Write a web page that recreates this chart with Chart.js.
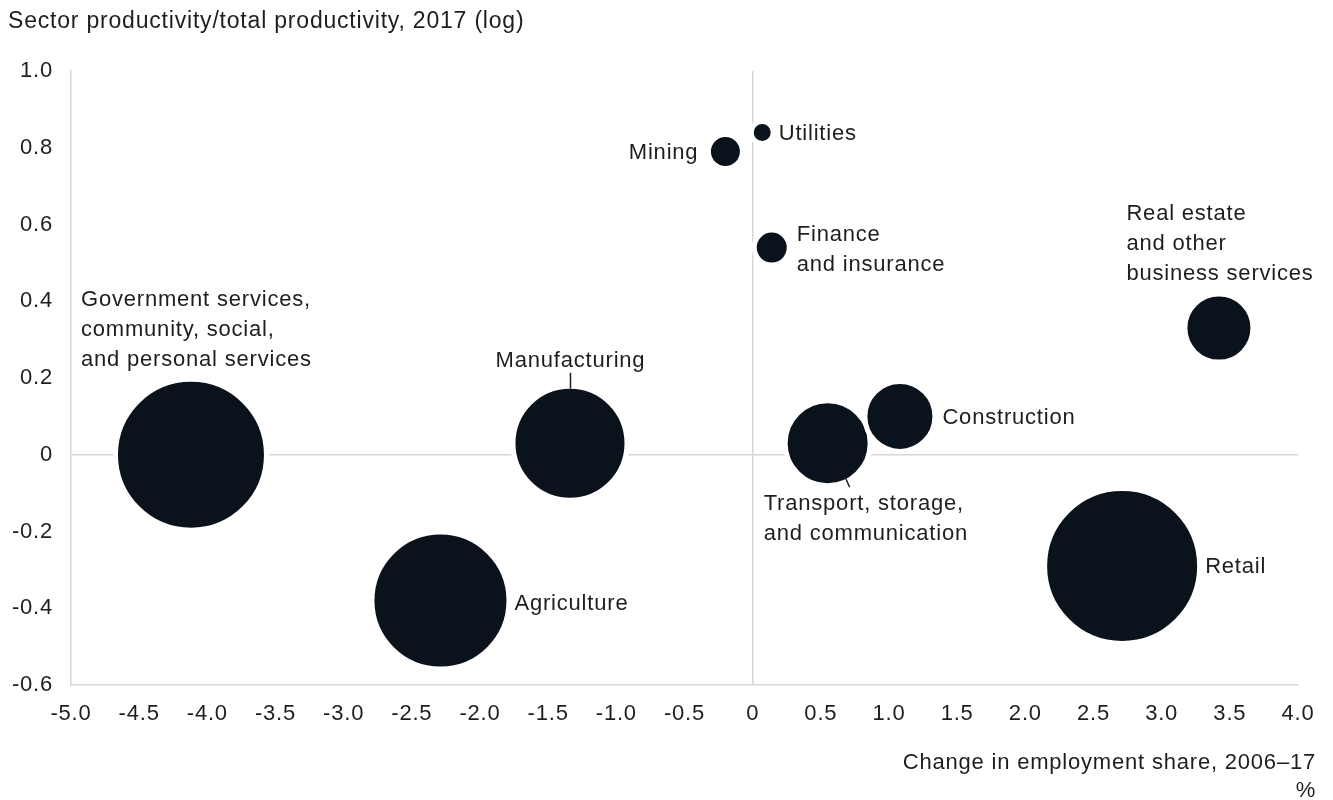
<!DOCTYPE html>
<html>
<head>
<meta charset="utf-8">
<script src="https://cdn.jsdelivr.net/npm/chart.js@4/dist/chart.umd.min.js"></script>
<style>
  html, body { margin: 0; padding: 0; background: #fff; }
  #wrap { width: 1333px; height: 800px; position: relative; }
</style>
</head>
<body>
<div id="wrap"><canvas id="chart" width="1333" height="800"></canvas></div>
<script>
// sectors, change in employment share (x), productivity ratio (y), bubble radius (px)
const sectors = [
  "Government services, community, social, and personal services",
  "Agriculture",
  "Manufacturing",
  "Mining",
  "Utilities",
  "Finance and insurance",
  "Transport, storage, and communication",
  "Construction",
  "Real estate and other business services",
  "Retail"
];
const employmentChange = [-4.12, -2.29, -1.34, -0.20, 0.07, 0.14, 0.55, 1.08, 3.42, 2.71];
const productivity = [0.00, -0.38, 0.03, 0.79, 0.84, 0.54, 0.03, 0.10, 0.33, -0.29];
const bubbleSize = [73, 66, 54.5, 14.5, 8.5, 15, 40, 32.5, 31.5, 75];

const xTicksMin = -5, xTicksMax = 4, xStep = 0.5;
const yTicksMin = -0.6, yTicksMax = 1.0, yStep = 0.2;

const FONT = "'Liberation Sans', Arial, sans-serif";
const TEXT = "#1e1e1e";
const INK = "#0a121b";
const RULE = "#d6d6d6";
const HALO = 5;

// label placement relative to each bubble centre
const labelLayout = [
  { lines: ["Government services,", "community, social,", "and personal services"], dx: -110, dy: -154.5, align: "left" },
  { lines: ["Agriculture"], dx: 74, dy: 3, align: "left" },
  { lines: ["Manufacturing"], dx: 0.5, dy: -82.5, align: "center", leader: [0.5, -70.5, 0.5, -54.5] },
  { lines: ["Mining"], dx: -27, dy: 1, align: "right" },
  { lines: ["Utilities"], dx: 16.5, dy: 1.5, align: "left" },
  { lines: ["Finance", "and insurance"], dx: 25, dy: -13, align: "left" },
  { lines: ["Transport, storage,", "and communication"], dx: -64, dy: 61, align: "left", leader: [18, 35, 22, 44] },
  { lines: ["Construction"], dx: 42.5, dy: 1.5, align: "left" },
  { lines: ["Real estate", "and other", "business services"], dx: -92.5, dy: -114.5, align: "left" },
  { lines: ["Retail"], dx: 83, dy: 1, align: "left" }
];

const points = employmentChange.map((x, i) => ({ x: x, y: productivity[i], r: bubbleSize[i] + HALO / 2 }));

const fmt = v => Math.abs(v) < 1e-9 ? "0" : v.toFixed(1);

const spacing = {
  id: "spacing",
  beforeDraw(chart) { chart.ctx.letterSpacing = "0.8px"; }
};

const annotate = {
  id: "annotate",
  afterDatasetsDraw(chart) {
    const ctx = chart.ctx;
    const meta = chart.getDatasetMeta(0);
    ctx.save();
    ctx.font = "22px " + FONT;
    ctx.fillStyle = TEXT;
    ctx.strokeStyle = TEXT;
    ctx.lineWidth = 1.5;
    ctx.textBaseline = "middle";
    meta.data.forEach((el, i) => {
      const lay = labelLayout[i];
      ctx.textAlign = lay.align;
      lay.lines.forEach((t, k) => {
        ctx.fillText(t, el.x + lay.dx, el.y + lay.dy + k * 30);
      });
      if (lay.leader) {
        ctx.beginPath();
        ctx.moveTo(el.x + lay.leader[0], el.y + lay.leader[1]);
        ctx.lineTo(el.x + lay.leader[2], el.y + lay.leader[3]);
        ctx.stroke();
      }
    });
    // axis titles
    ctx.textAlign = "right";
    ctx.fillText("Change in employment share, 2006\u201317", 1316, 763);
    ctx.fillText("%", 1316, 791);
    ctx.font = "23px " + FONT;
    ctx.textAlign = "left";
    ctx.fillText("Sector productivity/total productivity, 2017 (log)", 8, 22);
    ctx.restore();
  }
};

const zeroGrid = c => (c.tick && Math.abs(c.tick.value) < 1e-9) ? RULE : "rgba(0,0,0,0)";

new Chart(document.getElementById("chart"), {
  type: "bubble",
  data: {
    datasets: [{
      label: "Sectors",
      data: points,
      backgroundColor: INK,
      borderColor: "#ffffff",
      borderWidth: HALO,
      hoverRadius: 0
    }]
  },
  options: {
    responsive: false,
    animation: false,
    events: [],
    layout: { autoPadding: false, padding: { top: 71, right: 35, left: 0, bottom: 0 } },
    plugins: { legend: { display: false }, tooltip: { enabled: false } },
    scales: {
      x: {
        type: "linear",
        min: xTicksMin,
        max: xTicksMax,
        afterFit(s) { s.height = 115; },
        grid: { color: zeroGrid, lineWidth: 1.5, drawTicks: false },
        border: { display: true, color: RULE, width: 1.5 },
        ticks: {
          stepSize: xStep,
          autoSkip: false,
          maxRotation: 0,
          padding: 16,
          color: TEXT,
          font: { family: FONT, size: 22 },
          callback: v => fmt(v)
        }
      },
      y: {
        type: "linear",
        min: yTicksMin,
        max: yTicksMax,
        afterFit(s) { s.width = 71; },
        grid: { color: zeroGrid, lineWidth: 1.5, drawTicks: false },
        border: { display: true, color: RULE, width: 1.5 },
        ticks: {
          stepSize: yStep,
          padding: 18,
          color: TEXT,
          font: { family: FONT, size: 22 },
          callback: v => fmt(v)
        }
      }
    }
  },
  plugins: [spacing, annotate]
});
</script>
</body>
</html>
